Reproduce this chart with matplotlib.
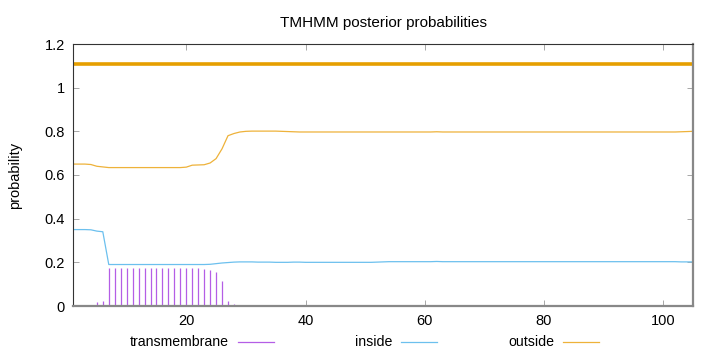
import matplotlib
matplotlib.use("Agg")
import matplotlib.pyplot as plt
from matplotlib.lines import Line2D

plt.rcParams["font.family"] = ["Liberation Sans", "DejaVu Sans"]

# posiciones de residuos 1..105
residuos = list(range(1, 106))

# probabilidad de hélice transmembrana (impulsos)
transmembrana = [
    0.000, 0.000, 0.000, 0.000, 0.018, 0.023, 0.176, 0.176, 0.176, 0.176,
    0.176, 0.176, 0.176, 0.176, 0.176, 0.176, 0.176, 0.176, 0.176, 0.176,
    0.176, 0.172, 0.169, 0.166, 0.156, 0.114, 0.023, 0.008, 0.005, 0.001,
    0.001, 0.001, 0.001, 0.001, 0.004, 0.004, 0.004, 0.004, 0.004, 0.004,
    0.004, 0.004, 0.004, 0.004, 0.004, 0.004, 0.004, 0.004, 0.004, 0.004,
    0.004, 0.004, 0.000, 0.000, 0.000, 0.000, 0.000, 0.000, 0.000, 0.000,
    0.000, 0.000, 0.000, 0.000, 0.000, 0.000, 0.000, 0.000, 0.000, 0.000,
    0.000, 0.000, 0.000, 0.000, 0.000, 0.000, 0.000, 0.000, 0.000, 0.000,
    0.000, 0.000, 0.000, 0.000, 0.000, 0.000, 0.000, 0.000, 0.000, 0.000,
    0.000, 0.000, 0.000, 0.000, 0.000, 0.000, 0.000, 0.000, 0.000, 0.000,
    0.000, 0.000, 0.000, 0.000, 0.000,
]

# probabilidad "inside"
dentro = [
    0.350, 0.350, 0.350, 0.349, 0.343, 0.340, 0.190, 0.190, 0.190, 0.190,
    0.190, 0.190, 0.190, 0.190, 0.190, 0.190, 0.190, 0.190, 0.190, 0.190,
    0.190, 0.190, 0.190, 0.191, 0.194, 0.197, 0.199, 0.201, 0.202, 0.202,
    0.202, 0.201, 0.201, 0.201, 0.200, 0.200, 0.200, 0.201, 0.201, 0.200,
    0.200, 0.200, 0.200, 0.200, 0.200, 0.200, 0.200, 0.200, 0.200, 0.200,
    0.200, 0.201, 0.202, 0.203, 0.203, 0.203, 0.203, 0.203, 0.203, 0.203,
    0.203, 0.204, 0.203, 0.203, 0.203, 0.203, 0.203, 0.203, 0.203, 0.203,
    0.203, 0.203, 0.203, 0.203, 0.203, 0.203, 0.203, 0.203, 0.203, 0.203,
    0.203, 0.203, 0.203, 0.203, 0.203, 0.203, 0.203, 0.203, 0.203, 0.203,
    0.203, 0.203, 0.203, 0.203, 0.203, 0.203, 0.203, 0.203, 0.203, 0.203,
    0.203, 0.203, 0.202, 0.202, 0.202,
]

# probabilidad "outside"
fuera = [
    0.650, 0.650, 0.650, 0.648, 0.640, 0.637, 0.634, 0.634, 0.634, 0.634,
    0.634, 0.634, 0.634, 0.634, 0.634, 0.634, 0.634, 0.634, 0.634, 0.636,
    0.645, 0.646, 0.647, 0.655, 0.675, 0.720, 0.780, 0.790, 0.797, 0.800,
    0.801, 0.801, 0.801, 0.801, 0.801, 0.800, 0.799, 0.798, 0.797, 0.797,
    0.797, 0.797, 0.797, 0.797, 0.797, 0.797, 0.797, 0.797, 0.797, 0.797,
    0.797, 0.797, 0.797, 0.797, 0.797, 0.797, 0.797, 0.797, 0.797, 0.797,
    0.797, 0.798, 0.797, 0.797, 0.797, 0.797, 0.797, 0.797, 0.797, 0.797,
    0.797, 0.797, 0.797, 0.797, 0.797, 0.797, 0.797, 0.797, 0.797, 0.797,
    0.797, 0.797, 0.797, 0.797, 0.797, 0.797, 0.797, 0.797, 0.797, 0.797,
    0.797, 0.797, 0.797, 0.797, 0.797, 0.797, 0.797, 0.797, 0.797, 0.797,
    0.797, 0.797, 0.798, 0.799, 0.800,
]

# topología predicha: todo "outside", dibujada a 1.11
topologia = [1.11] * len(residuos)

etiquetas = ["transmembrane", "inside", "outside"]

COLOR_TM = "#b45ee6"
COLOR_IN = "#6cc0ee"
COLOR_OUT = "#eeb23a"
COLOR_TOPO = "#e69f00"

W, H = 720, 352
fig = plt.figure(figsize=(W / 100, H / 100), dpi=100)
ax = fig.add_axes([73 / W, 1 - 306 / H, 620 / W, 262 / H])

ax.vlines(residuos, 0, transmembrana, color=COLOR_TM, lw=0.9)
ax.plot(residuos, dentro, color=COLOR_IN, lw=0.9)
ax.plot(residuos, fuera, color=COLOR_OUT, lw=0.9)
ax.plot(residuos, topologia, color=COLOR_TOPO, lw=2.6)

ax.set_xlim(1, 105)
ax.set_ylim(0, 1.2)
ax.set_xticks([20, 40, 60, 80, 100])
ax.set_yticks([0, 0.2, 0.4, 0.6, 0.8, 1, 1.2])
ax.set_yticklabels(["0", "0.2", "0.4", "0.6", "0.8", "1", "1.2"])
ax.tick_params(direction="in", length=4, width=0.6, color="#999999",
               top=True, right=True, labelsize=10.5, pad=6)

for lado in ["left", "top"]:
    ax.spines[lado].set_color("#333333")
    ax.spines[lado].set_linewidth(0.8)
for lado in ["bottom", "right"]:
    ax.spines[lado].set_color("#888888")
    ax.spines[lado].set_linewidth(1.6)

ax.set_ylabel("probability", fontsize=10.5, labelpad=16)
ax.set_title("TMHMM posterior probabilities", fontsize=11, pad=12)

# leyenda estilo gnuplot: texto a la derecha y muestra de línea después
colores_leyenda = [COLOR_TM, COLOR_IN, COLOR_OUT]
fin_texto = [229, 392, 554]
for etiqueta, color, x_fin in zip(etiquetas, colores_leyenda, fin_texto):
    fig.text(x_fin / W, 1 - 342 / H, etiqueta, ha="right", va="center", fontsize=10.2)
    fig.add_artist(Line2D([(x_fin + 9) / W, (x_fin + 45) / W],
                          [1 - 342 / H, 1 - 342 / H], color=color, lw=0.9))

fig.savefig("out.png", dpi=100)
